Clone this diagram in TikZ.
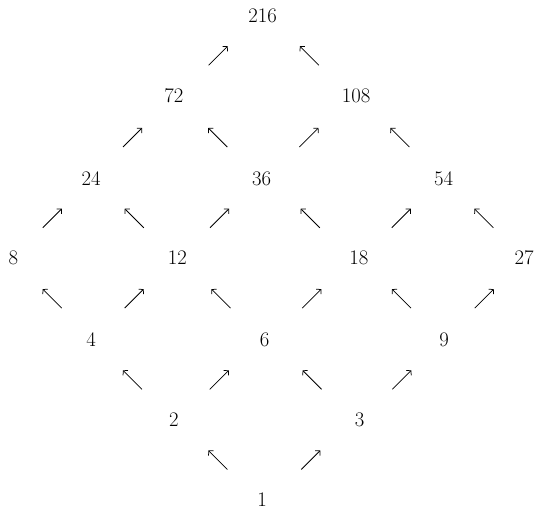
\documentclass[tikz,border=0pt]{standalone}
\usepackage{fontspec}
\usetikzlibrary{calc,arrows.meta}
\begin{document}
\begin{tikzpicture}[x=1pt,y=-1pt,
  num/.style={inner sep=0pt, font=\fontsize{20.7}{24}\selectfont},
  arr/.style={draw, line width=0.75pt, -{Straight Barb[length=3.2pt,width=7pt]}},
  upl/.style={arr, to path={($(\tikztostart)!0.5!(\tikztotarget)+(9.5,9.5)$) -- ($(\tikztostart)!0.5!(\tikztotarget)+(-9.5,-9.5)$)}},
  upr/.style={arr, to path={($(\tikztostart)!0.5!(\tikztotarget)+(-9.5,9.5)$) -- ($(\tikztostart)!0.5!(\tikztotarget)+(9.5,-9.5)$)}}]
\useasboundingbox (0,0) rectangle (537,510);
\node[num] (n216) at (262.5,15.5) {216};
\node[num] (n72) at (173.8,96) {72};
\node[num] (n108) at (356.2,96) {108};
\node[num] (n24) at (91.2,179) {24};
\node[num] (n36) at (261.7,179) {36};
\node[num] (n54) at (443.7,179) {54};
\node[num] (n8) at (13.3,257.5) {8};
\node[num] (n12) at (177.3,257.5) {12};
\node[num] (n18) at (358.8,257.5) {18};
\node[num] (n27) at (524.2,257.5) {27};
\node[num] (n4) at (91,339.7) {4};
\node[num] (n6) at (264.7,339.7) {6};
\node[num] (n9) at (444.2,339.7) {9};
\node[num] (n2) at (173.8,420) {2};
\node[num] (n3) at (359.5,420) {3};
\node[num] (n1) at (262,500) {1};
\path[upl] (n1) to (n2);
\path[upr] (n1) to (n3);
\path[upl] (n2) to (n4);
\path[upr] (n2) to (n6);
\path[upl] (n3) to (n6);
\path[upr] (n3) to (n9);
\path[upl] (n4) to (n8);
\path[upr] (n4) to (n12);
\path[upl] (n6) to (n12);
\path[upr] (n6) to (n18);
\path[upl] (n9) to (n18);
\path[upr] (n9) to (n27);
\path[upr] (n8) to (n24);
\path[upl] (n12) to (n24);
\path[upr] (n12) to (n36);
\path[upl] (n18) to (n36);
\path[upr] (n18) to (n54);
\path[upl] (n27) to (n54);
\path[upr] (n24) to (n72);
\path[upl] (n36) to (n72);
\path[upr] (n36) to (n108);
\path[upl] (n54) to (n108);
\path[upr] (n72) to (n216);
\path[upl] (n108) to (n216);
\end{tikzpicture}
\end{document}
